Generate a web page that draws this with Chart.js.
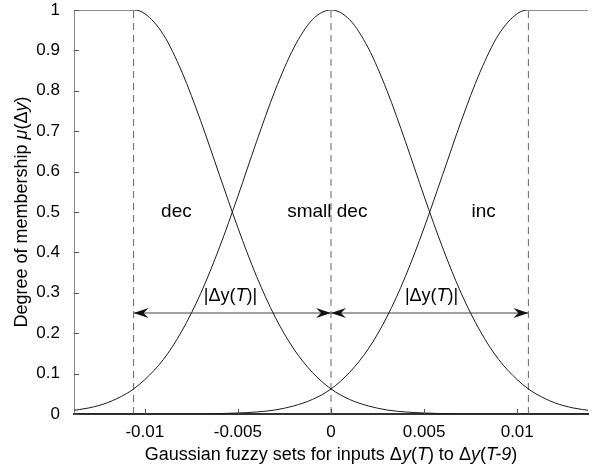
<!DOCTYPE html>
<html>
<head>
<meta charset="utf-8">
<script src="https://cdn.jsdelivr.net/npm/chart.js@4"></script>
<style>
  html, body { margin: 0; padding: 0; background: #fff; }
  #wrap { width: 595px; height: 469px; }
</style>
</head>
<body>
<div id="wrap"><canvas id="fuzzyChart" width="595" height="469"></canvas></div>
<script>
// values
const xs = [-0.014, -0.013, -0.012, -0.011, -0.0106, -0.010, -0.009, -0.008, -0.007, -0.006, -0.005,
            -0.004, -0.003, -0.002, -0.001, 0, 0.001, 0.002, 0.003, 0.004, 0.005,
            0.006, 0.007, 0.008, 0.009, 0.010, 0.0106, 0.011, 0.012, 0.013, 0.014];
const decVals = [1, 1, 1, 1, 1, 0.991, 0.939, 0.846, 0.726, 0.593, 0.461,
                 0.341, 0.240, 0.161, 0.103, 0.062, 0.036, 0.020, 0.010, 0.005, 0.0025,
                 0.001, 0, 0, 0, 0, 0, 0, 0, 0, 0];
const smallDecVals = [0.008, 0.015, 0.028, 0.050, 0.062, 0.085, 0.135, 0.206, 0.298, 0.411, 0.539,
                      0.674, 0.801, 0.906, 0.976, 1, 0.976, 0.906, 0.801, 0.674, 0.539,
                      0.411, 0.298, 0.206, 0.135, 0.085, 0.062, 0.050, 0.028, 0.015, 0.008];
const incVals = [0, 0, 0, 0, 0, 0, 0, 0, 0, 0.001, 0.0025,
                 0.005, 0.010, 0.020, 0.036, 0.062, 0.103, 0.161, 0.240, 0.341, 0.461,
                 0.593, 0.726, 0.846, 0.939, 0.991, 1, 1, 1, 1, 1];
const centers = [-0.0106, 0, 0.0106];
const arrowLevel = 0.25;
const xTicks = [-0.01, -0.005, 0, 0.005, 0.01];
const xTickLabels = ['-0.01', '-0.005', '0', '0.005', '0.01'];
const yTicks = [0, 0.1, 0.2, 0.3, 0.4, 0.5, 0.6, 0.7, 0.8, 0.9, 1];
const yTickLabels = ['0', '0.1', '0.2', '0.3', '0.4', '0.5', '0.6', '0.7', '0.8', '0.9', '1'];

const FONT = 'Arial, "Liberation Sans", Helvetica, sans-serif';

function pts(vals) {
    return xs.map((x, i) => ({ x: x, y: vals[i] }));
}

function curve(label, vals) {
    return {
        label: label,
        data: pts(vals),
        borderColor: '#1a1a1a',
        borderWidth: 1,
        pointRadius: 0,
        cubicInterpolationMode: 'monotone',
        fill: false
    };
}

const datasets = [
    curve('dec', decVals),
    curve('small dec', smallDecVals),
    curve('inc', incVals)
];
centers.forEach(c => {
    datasets.push({
        data: [{ x: c, y: 0 }, { x: c, y: 1 }],
        borderColor: '#666',
        borderWidth: 1,
        borderDash: [7, 5],
        pointRadius: 0
    });
});
for (let i = 0; i < centers.length - 1; i++) {
    datasets.push({
        data: [{ x: centers[i], y: arrowLevel }, { x: centers[i + 1], y: arrowLevel }],
        borderColor: '#444',
        borderWidth: 1,
        pointRadius: 0
    });
}

// draw text made of plain and italic pieces
function drawRich(ctx, parts, x, y, size) {
    let total = 0;
    parts.forEach(p => {
        ctx.font = (p[1] ? 'italic ' : '') + size + 'px ' + FONT;
        total += ctx.measureText(p[0]).width;
    });
    let cx = x - total / 2;
    ctx.textAlign = 'left';
    parts.forEach(p => {
        ctx.font = (p[1] ? 'italic ' : '') + size + 'px ' + FONT;
        ctx.fillText(p[0], cx, y);
        cx += ctx.measureText(p[0]).width;
    });
}

function arrowHead(ctx, px, py, dir) {
    ctx.beginPath();
    ctx.moveTo(px, py);
    ctx.lineTo(px - dir * 15, py - 5);
    ctx.lineTo(px - dir * 10, py);
    ctx.lineTo(px - dir * 15, py + 5);
    ctx.closePath();
    ctx.fill();
}

const extras = {
    id: 'extras',
    afterDatasetsDraw(chart) {
        const ctx = chart.ctx;
        const xs_ = chart.scales.x, ys_ = chart.scales.y;
        const area = chart.chartArea;
        ctx.save();
        // inward ticks
        ctx.strokeStyle = '#555';
        ctx.lineWidth = 1;
        xTicks.forEach(v => {
            const px = Math.round(xs_.getPixelForValue(v)) + 0.5;
            ctx.beginPath();
            ctx.moveTo(px, area.bottom);
            ctx.lineTo(px, area.bottom - 5);
            ctx.stroke();
        });
        yTicks.forEach(v => {
            const py = Math.round(ys_.getPixelForValue(v)) + 0.5;
            ctx.beginPath();
            ctx.moveTo(area.left, py);
            ctx.lineTo(area.left + 5, py);
            ctx.stroke();
        });
        // arrow heads
        ctx.fillStyle = '#111';
        const ay = ys_.getPixelForValue(arrowLevel);
        for (let i = 0; i < centers.length - 1; i++) {
            const a = xs_.getPixelForValue(centers[i]);
            const b = xs_.getPixelForValue(centers[i + 1]);
            arrowHead(ctx, a, ay, -1);
            arrowHead(ctx, b, ay, 1);
        }
        // set names and width labels
        ctx.fillStyle = '#000';
        ctx.textBaseline = 'middle';
        const midY = ys_.getPixelForValue(0.5);
        drawRich(ctx, [['dec', false]], xs_.getPixelForValue(-0.0083), midY, 19);
        drawRich(ctx, [['small dec', false]], xs_.getPixelForValue(-0.0002), midY, 19);
        drawRich(ctx, [['inc', false]], xs_.getPixelForValue(0.0082), midY, 19);
        const wy = ys_.getPixelForValue(0.293);
        [-0.0054, 0.0054].forEach(v => {
            drawRich(ctx, [['|\u0394y(', false], ['T', true], [')|', false]], xs_.getPixelForValue(v), wy, 18);
        });
        ctx.restore();
    },
    afterDraw(chart) {
        const ctx = chart.ctx;
        ctx.save();
        ctx.fillStyle = '#000';
        ctx.textBaseline = 'middle';
        drawRich(ctx, [['Gaussian fuzzy sets for inputs \u0394', false], ['y', true], ['(', false], ['T', true],
                       [') to \u0394', false], ['y', true], ['(', false], ['T-9', true], [')', false]], 331, 455, 18);
        ctx.translate(22, 212);
        ctx.rotate(-Math.PI / 2);
        drawRich(ctx, [['Degree of membership ', false], ['\u03bc', true], ['(\u0394', false], ['y', true], [')', false]], 0, 0, 18);
        ctx.restore();
    }
};

new Chart(document.getElementById('fuzzyChart'), {
    type: 'line',
    data: { datasets: datasets },
    options: {
        responsive: false,
        animation: false,
        layout: { padding: { top: 10, right: 7, left: 0, bottom: 0 } },
        plugins: { legend: { display: false }, tooltip: { enabled: false } },
        scales: {
            x: {
                type: 'linear',
                min: -0.0138,
                max: 0.0138,
                afterBuildTicks: s => { s.ticks = xTicks.map(v => ({ value: v })); },
                afterFit: s => { s.height = 55; s.paddingLeft = 0; s.paddingRight = 0; },
                grid: { display: false },
                border: { display: true, color: '#333', width: 2 },
                ticks: {
                    color: '#000',
                    padding: 0,
                    maxRotation: 0,
                    autoSkip: false,
                    font: { family: FONT, size: 17 },
                    callback: (v, i) => xTickLabels[i]
                }
            },
            y: {
                min: 0,
                max: 1,
                afterBuildTicks: s => { s.ticks = yTicks.map(v => ({ value: v })); },
                afterFit: s => { s.width = 74; s.paddingTop = 0; s.paddingBottom = 0; },
                grid: { display: false },
                border: { display: true, color: '#888', width: 1 },
                ticks: {
                    color: '#000',
                    padding: 6,
                    autoSkip: false,
                    font: { family: FONT, size: 17 },
                    callback: (v, i) => yTickLabels[i]
                }
            }
        }
    },
    plugins: [extras]
});
</script>
</body>
</html>
